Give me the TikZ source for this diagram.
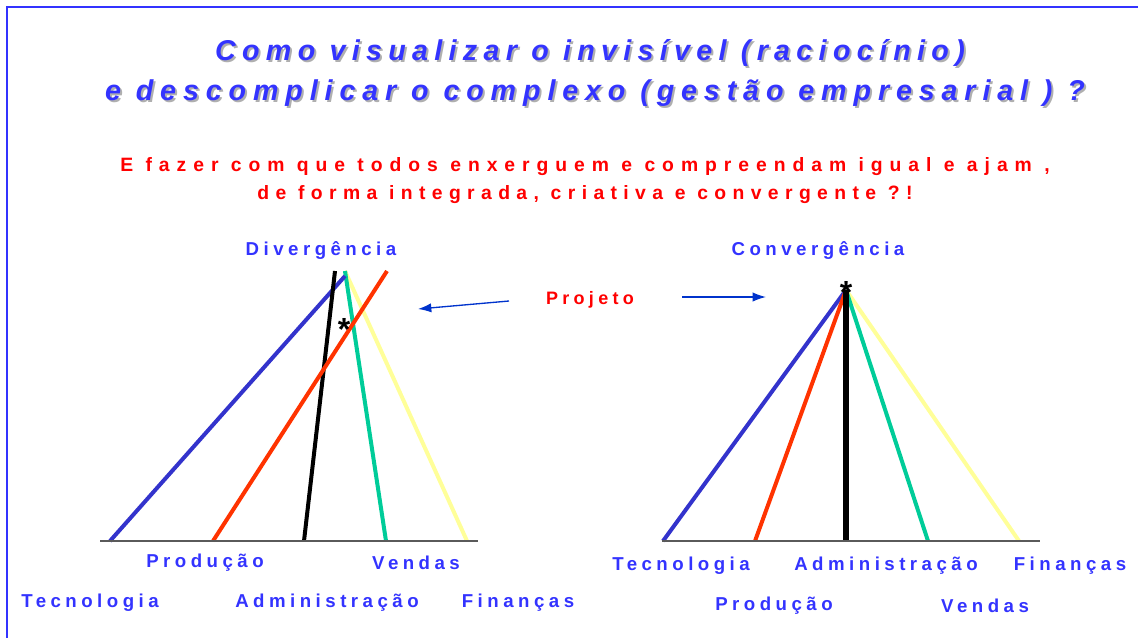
\documentclass[tikz,border=0pt]{standalone}
\usepackage{fontspec}
\setmainfont{Liberation Sans}
\newfontfamily\titlefont[LetterSpace=24]{Liberation Sans}
\newfontfamily\titlefontA[LetterSpace=22]{Liberation Sans}
\newfontfamily\subfont[LetterSpace=36]{Liberation Sans}
\newfontfamily\subfontB[LetterSpace=33]{Liberation Sans}
\newfontfamily\labfont[LetterSpace=24]{Liberation Sans}
\usetikzlibrary{arrows.meta}
\definecolor{tblue}{RGB}{51,51,255}
\definecolor{lblue}{RGB}{51,51,204}
\definecolor{lred}{RGB}{255,51,0}
\definecolor{lgreen}{RGB}{0,204,153}
\definecolor{lyellow}{RGB}{255,255,153}
\definecolor{ablue}{RGB}{0,51,204}
\definecolor{basegrey}{RGB}{90,90,90}
\definecolor{shadowgrey}{RGB}{175,175,175}
\tikzset{
  titletext/.style={font=\titlefont\bfseries\itshape\fontsize{21.5}{26}\selectfont, text=tblue, inner sep=0pt},
  titletextA/.style={titletext, font=\titlefontA\bfseries\itshape\fontsize{21.5}{26}\selectfont},
  titleshadow/.style={text=shadowgrey},
  subtext/.style={font=\subfont\bfseries\fontsize{14.5}{17}\selectfont, text=red, inner sep=0pt},
  subtextB/.style={subtext, font=\subfontB\bfseries\fontsize{14.5}{17}\selectfont},
  axislabel/.style={font=\labfont\bfseries\fontsize{14}{17}\selectfont, text=tblue, inner sep=0pt},
  projtext/.style={font=\labfont\bfseries\fontsize{13.5}{16}\selectfont, text=red, inner sep=0pt},
  ray/.style={line width=3pt},
  baseline/.style={line width=1.5pt, draw=basegrey},
  pointer/.style={draw=ablue, line width=1pt, -{Latex[length=10pt,width=7pt]}},
  star/.style={font=\bfseries\fontsize{24}{24}\selectfont, inner sep=0pt},
}
\begin{document}
\begin{tikzpicture}[x=0.75pt,y=-0.75pt]
\useasboundingbox (0,0) rectangle (1138,637);
% frame
\coordinate (fbl) at (7,640);
\coordinate (ftl) at (7,7);
\coordinate (ftr) at (1140,7);
\draw[tblue, line width=2pt] (fbl) -- (ftl) -- (ftr);
% title
\node[titletextA, titleshadow] (t1s) at (592,55) {Como visualizar o invisível (raciocínio)};
\node[titletext, titleshadow] (t2s) at (597,95) {e descomplicar o complexo (gestão empresarial ) ?};
\node[titletextA] (t1) at (590,53) {Como visualizar o invisível (raciocínio)};
\node[titletext] (t2) at (595,93) {e descomplicar o complexo (gestão empresarial ) ?};
% subtitle
\node[subtext] (s1) at (585,167) {E fazer com que todos enxerguem e compreendam igual e ajam ,};
\node[subtextB] (s2) at (585,195) {de forma integrada, criativa e convergente ?!};
% headings
\node[axislabel] (div) at (321,250) {Divergência};
\node[axislabel] (conv) at (818,250) {Convergência};
\node[projtext] (proj) at (590,300) {Projeto};
% projeto arrows
\coordinate (pl0) at (509,301);
\coordinate (pl1) at (418,309);
\coordinate (pr0) at (682,297);
\coordinate (pr1) at (766,297);
\draw[pointer] (pl0) -- (pl1);
\draw[pointer] (pr0) -- (pr1);
% left diagram
\coordinate (lbase0) at (100,541);
\coordinate (lbase1) at (478,541);
\coordinate (lb1) at (110,541); \coordinate (lt1) at (345,276);
\coordinate (lb2) at (213,541); \coordinate (lt2) at (387,271);
\coordinate (lb3) at (304,541); \coordinate (lt3) at (335,271);
\coordinate (lb4) at (386,541); \coordinate (lt4) at (345,271);
\coordinate (lb5) at (467,541); \coordinate (lt5) at (345,271);
\draw[ray, lyellow] (lb5) -- (lt5);
\draw[ray, lgreen] (lb4) -- (lt4);
\draw[ray, lblue] (lb1) -- (lt1);
\draw[ray, black] (lb3) -- (lt3);
\draw[ray, lred] (lb2) -- (lt2);
\draw[baseline] (lbase0) -- (lbase1);
\node[star] (lstar) at (344,329) {*};
\node[axislabel] (lprod) at (205,563) {Produção};
\node[axislabel] (lvend) at (416,563) {Vendas};
\node[axislabel] (ltec) at (90,603) {Tecnologia};
\node[axislabel] (ladm) at (327,603) {Administração};
\node[axislabel] (lfin) at (518,603) {Finanças};
% right diagram
\coordinate (rbase0) at (662,541);
\coordinate (rbase1) at (1040,541);
\coordinate (rapex) at (846,290);
\coordinate (rb1) at (663,541);
\coordinate (rb2) at (755,541);
\coordinate (rb3) at (846,541);
\coordinate (rb4) at (928,541);
\coordinate (rb5) at (1019,541);
\draw[ray, lyellow] (rb5) -- (rapex);
\draw[ray, lgreen] (rb4) -- (rapex);
\draw[ray, lblue] (rb1) -- (rapex);
\draw[ray, lred] (rb2) -- (rapex);
\draw[ray, black, line width=4.5pt] (rb3) -- (rapex);
\draw[baseline] (rbase0) -- (rbase1);
\node[star] (rstar) at (846,292) {*};
\node[axislabel] (rtec) at (681,566) {Tecnologia};
\node[axislabel] (radm) at (886,566) {Administração};
\node[axislabel] (rfin) at (1070,566) {Finanças};
\node[axislabel] (rprod) at (774,606) {Produção};
\node[axislabel] (rvend) at (985,606) {Vendas};
\end{tikzpicture}
\end{document}
